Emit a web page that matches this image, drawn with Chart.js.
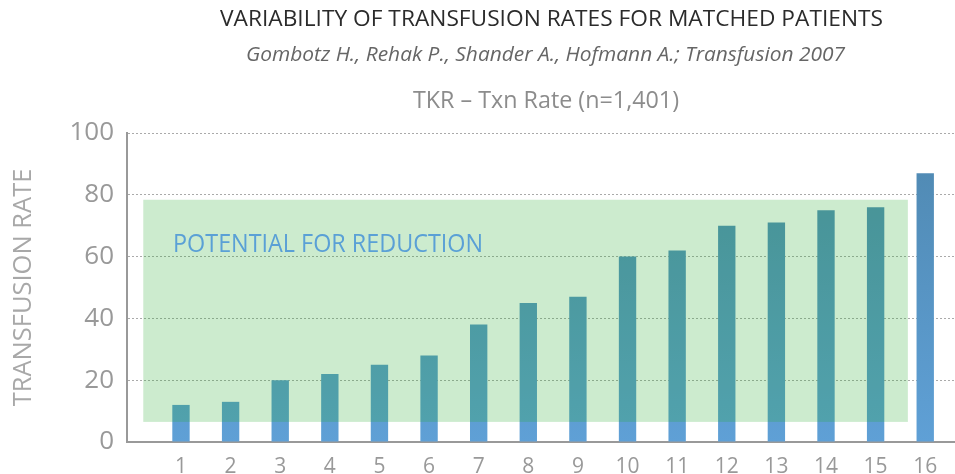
<!DOCTYPE html>
<html>
<head>
<meta charset="utf-8">
<script src="https://cdn.jsdelivr.net/npm/chart.js@4"></script>
<style>
  html, body { margin: 0; padding: 0; background: #fff; }
  #wrap { width: 955px; height: 474px; position: relative; }
</style>
</head>
<body>
<div id="wrap"><canvas id="myChart"></canvas></div>
<script>
// data
var patients = [1, 2, 3, 4, 5, 6, 7, 8, 9, 10, 11, 12, 13, 14, 15, 16];
var rates = [12, 13, 20, 22, 25, 28, 38, 45, 47, 60, 62, 70, 71, 75, 76, 87];
var yTicks = [0, 20, 40, 60, 80, 100];

var titleText = "VARIABILITY OF TRANSFUSION RATES FOR MATCHED PATIENTS";
var subText = "Gombotz H., Rehak P., Shander A., Hofmann A.; Transfusion 2007";
var chartText = "TKR \u2013 Txn Rate (n=1,401)";
var boxText = "POTENTIAL FOR REDUCTION";

// draw text stretched/squeezed to a given width
function fitText(ctx, txt, x, y, w) {
  var m = ctx.measureText(txt).width;
  ctx.save();
  ctx.translate(x, y);
  ctx.scale(w / m, 1);
  ctx.fillText(txt, 0, 0);
  ctx.restore();
}

var headerPlugin = {
  id: 'header',
  afterDraw: function (chart) {
    var ctx = chart.ctx;
    ctx.save();
    ctx.textAlign = 'left';
    ctx.textBaseline = 'alphabetic';
    ctx.fillStyle = '#2b2b2b';
    ctx.font = '22.5px "Open Sans"';
    fitText(ctx, titleText, 220, 26, 663);
    ctx.fillStyle = '#666';
    ctx.font = 'italic 20.5px "Open Sans"';
    fitText(ctx, subText, 246, 61, 599);
    ctx.fillStyle = '#8c8c8c';
    ctx.font = '23.5px "Open Sans"';
    fitText(ctx, chartText, 413, 108, 266);
    ctx.restore();
  }
};

var boxPlugin = {
  id: 'reductionBox',
  afterDatasetsDraw: function (chart) {
    var ctx = chart.ctx, x = chart.scales.x, y = chart.scales.y;
    var left = x.getPixelForValue(0.24), right = x.getPixelForValue(15.65);
    var top = y.getPixelForValue(78.4), bottom = y.getPixelForValue(6.5);
    ctx.save();
    ctx.fillStyle = 'rgba(40,170,50,0.24)';
    ctx.fillRect(left, top, right - left, bottom - top);
    ctx.fillStyle = '#5aa0d6';
    ctx.font = '26px "Open Sans"';
    ctx.textBaseline = 'alphabetic';
    fitText(ctx, boxText, x.getPixelForValue(0.84), y.getPixelForValue(61.6), 310);
    ctx.restore();
  }
};

function barColor(c) {
  var a = c.chart.chartArea;
  if (!a) return '#5e9ed2';
  var g = c.chart.ctx.createLinearGradient(0, a.top, 0, a.bottom);
  g.addColorStop(0, '#4f88b0');
  g.addColorStop(1, '#5fa0d6');
  return g;
}

var myChart = new Chart(document.getElementById("myChart"), {
  type: 'bar',
  data: {
    datasets: [{
      data: patients.map(function (p, i) { return { x: p, y: rates[i] }; }),
      backgroundColor: barColor,
      barPercentage: 0.35,
      categoryPercentage: 1
    }]
  },
  options: {
    responsive: true,
    maintainAspectRatio: false,
    animation: false,
    layout: { padding: { top: 133, right: 0, left: 0, bottom: 0 } },
    plugins: {
      legend: { display: false },
      tooltip: { enabled: false }
    },
    scales: {
      x: {
        type: 'linear',
        min: -0.088,
        max: 16.6,
        offset: false,
        afterBuildTicks: function (s) {
          s.ticks = patients.map(function (p) { return { value: p }; });
        },
        afterFit: function (s) { s.height = 32; },
        grid: { display: false, offset: false },
        border: { display: true, color: '#999', width: 2 },
        ticks: {
          color: '#999',
          font: { family: '"Open Sans"', size: 21 },
          padding: 4,
          maxRotation: 0,
          autoSkip: false
        }
      },
      y: {
        min: 0,
        max: 100,
        afterFit: function (s) { s.width = 127; },
        grid: { color: '#aaa', lineWidth: 1, drawTicks: false },
        border: { display: true, color: '#999', width: 2, dash: [2, 2] },
        ticks: {
          stepSize: 10,
          color: '#999',
          padding: 13,
          font: { family: '"Open Sans"', size: 26 },
          callback: function (v) { return yTicks.indexOf(v) >= 0 ? v : ''; }
        },
        title: {
          display: true,
          text: 'TRANSFUSION RATE',
          color: '#a8a8a8',
          font: { family: '"Open Sans"', size: 25.5 },
          padding: { top: 8, bottom: 0 }
        }
      }
    }
  },
  plugins: [boxPlugin, headerPlugin]
});
</script>
</body>
</html>
